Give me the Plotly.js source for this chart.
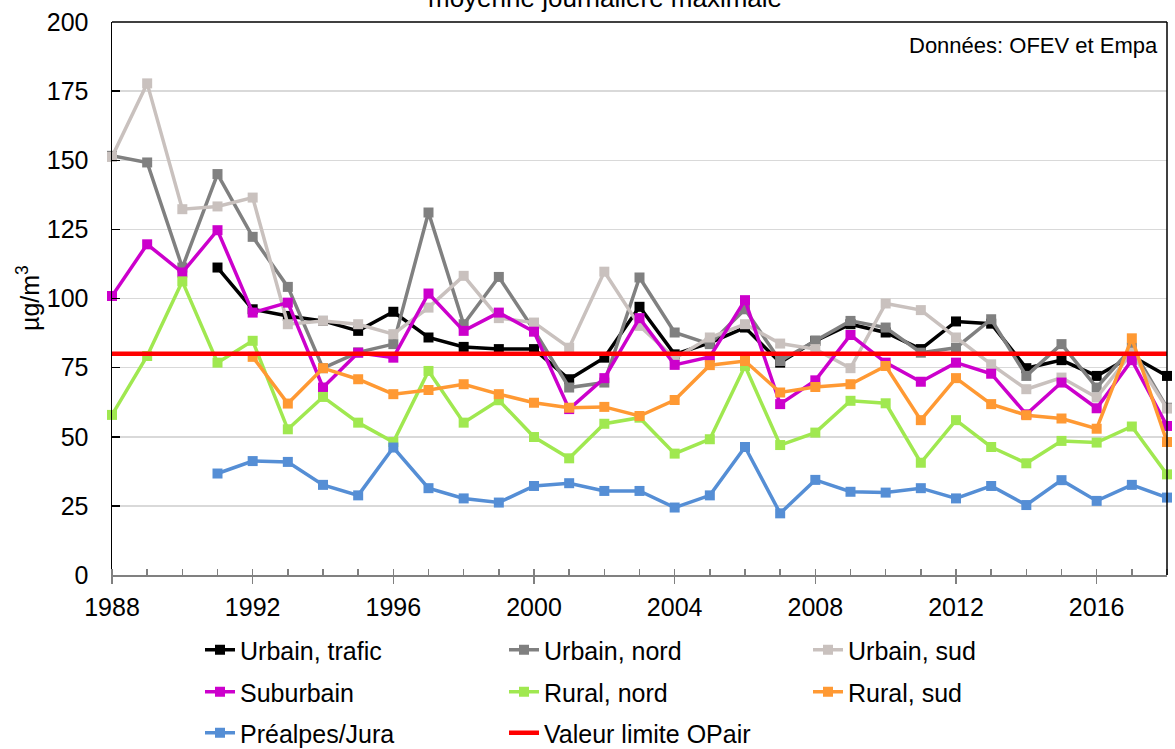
<!DOCTYPE html>
<html>
<head>
<meta charset="utf-8">
<script src="https://cdn.plot.ly/plotly-3.0.1.min.js"></script>
<style>html,body{margin:0;padding:0;background:#fff;}#chart{width:1175px;height:749px;}</style>
</head>
<body>
<div id="chart"></div>
<script>
const years = [1988,1989,1990,1991,1992,1993,1994,1995,1996,1997,1998,1999,2000,2001,2002,2003,2004,2005,2006,2007,2008,2009,2010,2011,2012,2013,2014,2015,2016,2017,2018];

const urbainTrafic = [null,null,null,111.2,96.1,93.7,91.9,88.3,95.2,85.9,82.5,81.7,81.7,70.8,78.6,97.0,79.8,84.0,89.5,76.8,84.7,90.7,87.7,81.7,91.7,90.9,74.8,77.7,72.0,79.2,72.0];
const urbainNord = [151.6,149.2,111.2,145.0,122.3,104.2,74.8,80.5,83.5,131.1,90.7,107.8,88.5,67.8,69.6,107.6,87.7,83.5,96.1,77.4,84.7,91.9,89.5,80.4,82.2,92.5,72.0,83.5,67.8,82.2,60.5];
const urbainSud = [151.2,177.8,132.3,133.3,136.5,90.7,91.9,90.7,87.1,96.7,108.2,92.9,91.3,82.2,109.7,90.1,78.4,85.9,90.7,83.7,81.7,74.8,98.2,95.8,85.9,76.2,67.2,71.4,64.2,80.4,60.2];
const suburbain = [100.9,119.6,109.4,124.7,94.9,98.5,67.8,80.4,78.6,101.8,88.3,94.9,88.0,60.0,71.2,92.9,76.0,78.9,99.4,61.8,70.4,86.8,76.8,69.9,76.8,72.8,58.1,69.6,60.3,77.7,53.9];
const ruralNord = [57.9,79.2,106.2,76.8,84.7,52.7,64.4,55.1,48.1,73.8,55.1,63.2,49.9,42.2,54.7,56.9,43.9,49.1,75.6,47.0,51.5,63.0,62.1,40.6,56.0,46.3,40.4,48.5,47.9,53.7,36.4];
const ruralSud = [null,null,null,null,78.9,62.0,74.8,70.8,65.4,66.9,69.0,65.4,62.3,60.5,60.8,57.5,63.3,75.9,77.4,66.0,68.0,69.0,75.6,56.0,71.2,61.8,57.8,56.6,52.9,85.6,48.1];
const prealpes = [null,null,null,36.7,41.2,40.9,32.6,28.8,46.1,31.4,27.7,26.2,32.2,33.2,30.4,30.4,24.4,28.8,46.3,22.3,34.4,30.1,29.8,31.4,27.7,32.2,25.3,34.3,26.8,32.6,28.0];
const valeurLimite = years.map(() => 80);

const seriesNames = ["Urbain, trafic","Urbain, nord","Urbain, sud","Suburbain","Rural, nord","Rural, sud","Préalpes/Jura","Valeur limite OPair"];
const seriesColors = ["#000000","#808080","#C9C1BE","#CC00CC","#A0E850","#FF9933","#558ED5","#FF0000"];
const seriesData = [urbainTrafic,urbainNord,urbainSud,suburbain,ruralNord,ruralSud,prealpes,valeurLimite];
const seriesLegend = ["legend","legend","legend","legend2","legend2","legend2","legend3","legend3"];

const FONT = "Liberation Sans, Arial, sans-serif";

const traces = seriesData.map((d, i) => {
  const isLimit = i === 7;
  return {
    x: years, y: d, name: seriesNames[i],
    type: "scatter",
    mode: isLimit ? "lines" : "lines+markers",
    line: {color: seriesColors[i], width: isLimit ? 4.5 : 3.5},
    marker: {symbol: "square", size: 10, color: seriesColors[i]},
    cliponaxis: false,
    connectgaps: false,
    legend: seriesLegend[i],
    hoverinfo: "x+y+name"
  };
});

const legendBase = {
  orientation: "h", xanchor: "left", yanchor: "middle",
  entrywidth: 259, entrywidthmode: "pixels",
  font: {family: FONT, size: 25, color: "#000"},
  bgcolor: "rgba(0,0,0,0)", borderwidth: 0
};
const legX = (200 - 112) / 1055;
function legY(py) { return (575 - py) / 553; }

const layout = {
  width: 1175, height: 749,
  margin: {l: 112, r: 8, t: 22, b: 174, autoexpand: false},
  paper_bgcolor: "#fff", plot_bgcolor: "#fff",
  font: {family: FONT, color: "#000"},
  showlegend: true,
  legend: Object.assign({}, legendBase, {x: legX, y: legY(650)}),
  legend2: Object.assign({}, legendBase, {x: legX, y: legY(692)}),
  legend3: Object.assign({}, legendBase, {x: legX, y: legY(733)}),
  xaxis: {
    range: [1988, 2018], tick0: 1988, dtick: 4,
    showgrid: false, zeroline: false,
    showline: true, linecolor: "#808080", linewidth: 2,
    ticks: "outside", ticklen: 7, tickcolor: "#808080", tickwidth: 1.5,
    minor: {dtick: 1, ticks: "inside", ticklen: 6, tickcolor: "#808080", tickwidth: 1.5, showgrid: false},
    tickfont: {family: FONT, size: 25, color: "#000"},
    ticklabelstandoff: 2,
    fixedrange: true
  },
  yaxis: {
    range: [0, 200], tick0: 0, dtick: 25,
    showgrid: true, gridcolor: "#D9D9D9", gridwidth: 1.5,
    zeroline: false,
    showline: true, linecolor: "#000", linewidth: 1.5,
    ticks: "inside", ticklen: 8, tickcolor: "#000", tickwidth: 1.5,
    tickfont: {family: FONT, size: 25, color: "#000"},
    ticklabelstandoff: 17,
    fixedrange: true
  },
  shapes: [
    {type: "line", xref: "paper", yref: "paper", x0: 0, x1: 1, y0: 1, y1: 1, line: {color: "#000", width: 1.5}},
    {type: "line", xref: "paper", yref: "paper", x0: 1, x1: 1, y0: 0, y1: 1, line: {color: "#000", width: 1.5}}
  ],
  annotations: [
    {text: "moyenne journalière maximale", xref: "paper", yref: "paper", x: (605 - 112) / 1055, y: 1,
     xanchor: "center", yanchor: "middle", yshift: 24, showarrow: false,
     font: {family: FONT, size: 26, color: "#000"}},
    {text: "Données: OFEV et Empa", xref: "paper", yref: "paper", x: 1, y: 1,
     xanchor: "right", yanchor: "middle", xshift: -7, yshift: -23, showarrow: false,
     font: {family: FONT, size: 22, color: "#000"}},
    {text: "µg/m<sup>3</sup>", xref: "paper", yref: "paper", x: (28 - 112) / 1055, y: (575 - 298) / 553,
     xanchor: "center", yanchor: "middle", textangle: -90, showarrow: false,
     font: {family: FONT, size: 25, color: "#000"}}
  ]
};

Plotly.newPlot("chart", traces, layout, {displayModeBar: false, staticPlot: true});
</script>
</body>
</html>
